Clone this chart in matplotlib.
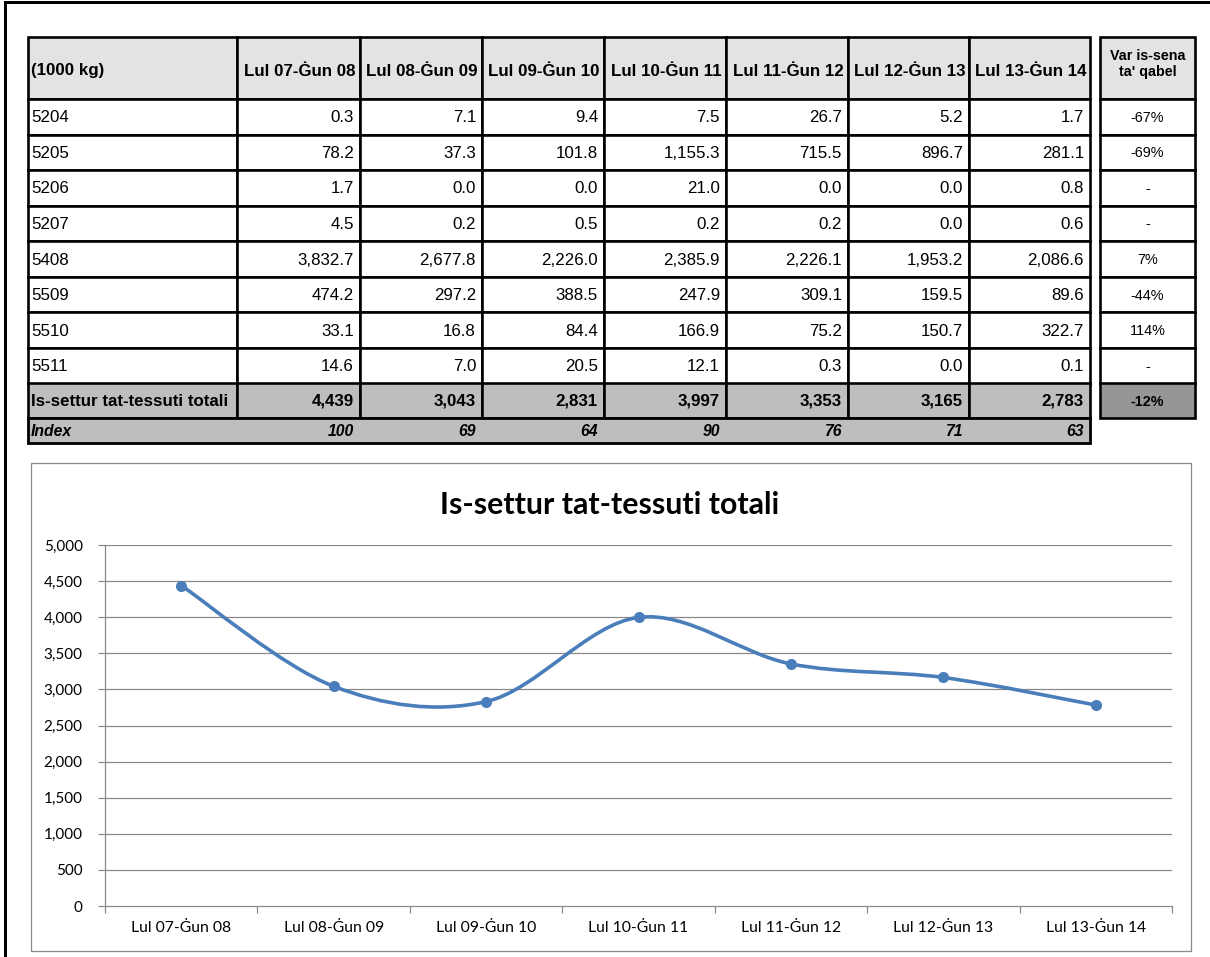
import matplotlib
matplotlib.use('Agg')
import matplotlib.pyplot as plt
from matplotlib.patches import Rectangle, PathPatch
from matplotlib.path import Path
from matplotlib.ticker import FuncFormatter, FixedLocator
import numpy as np

# ---------------- data ----------------
periods = ["Lul 07-Ġun 08", "Lul 08-Ġun 09", "Lul 09-Ġun 10", "Lul 10-Ġun 11",
           "Lul 11-Ġun 12", "Lul 12-Ġun 13", "Lul 13-Ġun 14"]
row_labels = ["5204", "5205", "5206", "5207", "5408", "5509", "5510", "5511"]
v5204 = [0.3, 7.1, 9.4, 7.5, 26.7, 5.2, 1.7]
v5205 = [78.2, 37.3, 101.8, 1155.3, 715.5, 896.7, 281.1]
v5206 = [1.7, 0.0, 0.0, 21.0, 0.0, 0.0, 0.8]
v5207 = [4.5, 0.2, 0.5, 0.2, 0.2, 0.0, 0.6]
v5408 = [3832.7, 2677.8, 2226.0, 2385.9, 2226.1, 1953.2, 2086.6]
v5509 = [474.2, 297.2, 388.5, 247.9, 309.1, 159.5, 89.6]
v5510 = [33.1, 16.8, 84.4, 166.9, 75.2, 150.7, 322.7]
v5511 = [14.6, 7.0, 20.5, 12.1, 0.3, 0.0, 0.1]
row_values = [v5204, v5205, v5206, v5207, v5408, v5509, v5510, v5511]
totals = [4439, 3043, 2831, 3997, 3353, 3165, 2783]
index_vals = [100, 69, 64, 90, 76, 71, 63]
var_labels = ["-67%", "-69%", "-", "-", "7%", "-44%", "114%", "-"]
var_total = "-12%"
unit_label = "(1000 kg)"
total_label = "Is-settur tat-tessuti totali"
index_label = "Index"
var_header = "Var is-sena\nta' qabel"
chart_title = "Is-settur tat-tessuti totali"
y_ticks = [0, 500, 1000, 1500, 2000, 2500, 3000, 3500, 4000, 4500, 5000]

# ---------------- figure ----------------
W, H = 1210, 957
fig = plt.figure(figsize=(W / 100, H / 100), dpi=100)
fig.patch.set_facecolor('white')

ov = fig.add_axes([0, 0, 1, 1])
ov.set_xlim(0, W)
ov.set_ylim(H, 0)
ov.axis('off')

PX = 0.72  # points per pixel
TF = 'Liberation Sans'
FS = 12.2     # main table font size
FS_IDX = 11.3
FS_VAR = 10.4

# outer frame (left and top only visible)
ov.plot([5, 5], [2, H], color='black', lw=3 * PX, solid_capstyle='projecting')
ov.plot([5, W], [2, 2], color='black', lw=3 * PX, solid_capstyle='projecting')

# table geometry (pixels)
col_x = [28, 237, 360, 482, 604, 726, 848, 969, 1090]
hdr_top, hdr_bot = 37, 99
row_h = (348 - 99) / 7.0
row_tops = [hdr_bot + i * row_h for i in range(8)]
tot_top, tot_bot = 383, 418
idx_top, idx_bot = 418, 443
var_x0, var_x1 = 1100, 1195

hdr_col = '#E3E3E3'
tot_col = '#BEBEBE'
var_tot_col = '#969696'


def cell(x0, y0, x1, y1, fc='white', lw=2.6):
    ov.add_patch(Rectangle((x0, y0), x1 - x0, y1 - y0, facecolor=fc,
                           edgecolor='black', lw=lw * PX, zorder=2))


# header
for i in range(8):
    cell(col_x[i], hdr_top, col_x[i + 1], hdr_bot, hdr_col)
ov.text(col_x[0] + 3, (hdr_top + hdr_bot) / 2 + 3, unit_label, fontfamily=TF,
        fontsize=FS, fontweight='bold', va='center', ha='left', zorder=3)
for j, p in enumerate(periods):
    ov.text((col_x[j + 1] + col_x[j + 2]) / 2 + 1, (hdr_top + hdr_bot) / 2 + 3, p,
            fontfamily=TF, fontsize=FS, fontweight='bold', va='center',
            ha='center', zorder=3)

# data rows
for r, (lab, vals) in enumerate(zip(row_labels, row_values)):
    y0 = row_tops[r]
    y1 = y0 + row_h
    yc = (y0 + y1) / 2 + 1
    for i in range(8):
        cell(col_x[i], y0, col_x[i + 1], y1)
    ov.text(col_x[0] + 3, yc, lab, fontfamily=TF, fontsize=FS,
            va='center', ha='left', zorder=3)
    for j, v in enumerate(vals):
        ov.text(col_x[j + 2] - 6, yc, f"{v:,.1f}", fontfamily=TF, fontsize=FS,
                va='center', ha='right', zorder=3)

# total row
for i in range(8):
    cell(col_x[i], tot_top, col_x[i + 1], tot_bot, tot_col)
yc = (tot_top + tot_bot) / 2 + 1
ov.text(col_x[0] + 3, yc, total_label, fontfamily=TF, fontsize=FS,
        fontweight='bold', va='center', ha='left', zorder=3)
for j, v in enumerate(totals):
    ov.text(col_x[j + 2] - 6, yc, f"{v:,.0f}", fontfamily=TF, fontsize=FS,
            fontweight='bold', va='center', ha='right', zorder=3)

# index row
ov.add_patch(Rectangle((col_x[0], idx_top), col_x[-1] - col_x[0], idx_bot - idx_top,
                       facecolor=tot_col, edgecolor='black', lw=2.8 * PX, zorder=2))
yc = (idx_top + idx_bot) / 2 + 1
ov.text(col_x[0] + 3, yc, index_label, fontfamily=TF, fontsize=FS_IDX,
        fontweight='bold', fontstyle='italic', va='center', ha='left', zorder=3)
for j, v in enumerate(index_vals):
    ov.text(col_x[j + 2] - 6, yc, f"{v:d}", fontfamily=TF, fontsize=FS_IDX,
            fontweight='bold', fontstyle='italic', va='center', ha='right', zorder=3)

# variation column
cell(var_x0, hdr_top, var_x1, hdr_bot, hdr_col)
ov.text((var_x0 + var_x1) / 2, (hdr_top + hdr_bot) / 2 - 4, var_header,
        fontfamily=TF, fontsize=10.3, fontweight='bold', va='center',
        ha='center', linespacing=1.2, zorder=3)
for r, lab in enumerate(var_labels):
    y0 = row_tops[r]
    y1 = y0 + row_h
    cell(var_x0, y0, var_x1, y1)
    ov.text((var_x0 + var_x1) / 2, (y0 + y1) / 2 + 1, lab, fontfamily=TF,
            fontsize=FS_VAR, va='center', ha='center', zorder=3)
cell(var_x0, tot_top, var_x1, tot_bot, var_tot_col)
ov.text((var_x0 + var_x1) / 2, (tot_top + tot_bot) / 2 + 1, var_total,
        fontfamily=TF, fontsize=FS_VAR, fontweight='bold', va='center',
        ha='center', zorder=3)

# chart box
ov.add_patch(Rectangle((31, 463), 1191 - 31, 951 - 463, facecolor='white',
                       edgecolor='#8C8C8C', lw=1.3 * PX, zorder=1))
ov.text(610, 505, chart_title, fontfamily='Lato', fontsize=21.8,
        fontweight='bold', ha='center', va='center', zorder=3)

# ---------------- line chart ----------------
CF = 'Lato'
px_left, px_right, px_top, px_bot = 105, 1172, 545, 906
ax = fig.add_axes([px_left / W, (H - px_bot) / H, (px_right - px_left) / W,
                   (px_bot - px_top) / H])
ax.set_facecolor('none')
n = len(periods)
ax.set_xlim(-0.5, n - 0.5)
ax.set_ylim(0, 5000)

grid_col = '#878787'
for t in y_ticks[1:]:
    ax.axhline(t, color=grid_col, lw=1.2 * PX, zorder=1)

for s in ['top', 'right']:
    ax.spines[s].set_visible(False)
ax.spines['left'].set_color(grid_col)
ax.spines['bottom'].set_color(grid_col)
ax.spines['left'].set_linewidth(1.2 * PX)
ax.spines['bottom'].set_linewidth(1.2 * PX)

ax.yaxis.set_major_locator(FixedLocator(y_ticks))
ax.yaxis.set_major_formatter(FuncFormatter(lambda v, p: f"{v:,.0f}"))
ax.tick_params(axis='y', direction='out', length=5, width=1.2 * PX,
               color=grid_col, labelsize=11, pad=11)
for lbl in ax.get_yticklabels():
    lbl.set_fontfamily(CF)

xs = np.arange(n)
ax.set_xticks(np.arange(-0.5, n, 1.0))
ax.set_xticklabels([])
ax.set_xticks(xs, minor=True)
ax.set_xticklabels(periods, minor=True, fontfamily=CF, fontsize=11.3)
ax.tick_params(axis='x', which='major', direction='out', length=5,
               width=1.2 * PX, color=grid_col)
ax.tick_params(axis='x', which='minor', length=0, pad=11)

# smoothed line (Catmull-Rom style Bezier through data points)
ys = np.array(totals, dtype=float)
verts = [(xs[0], ys[0])]
codes = [Path.MOVETO]
for i in range(n - 1):
    p0 = np.array([xs[max(i - 1, 0)], ys[max(i - 1, 0)]])
    p1 = np.array([xs[i], ys[i]])
    p2 = np.array([xs[i + 1], ys[i + 1]])
    p3 = np.array([xs[min(i + 2, n - 1)], ys[min(i + 2, n - 1)]])
    c1 = p1 + (p2 - p0) / 6.0
    c2 = p2 - (p3 - p1) / 6.0
    verts += [tuple(c1), tuple(c2), tuple(p2)]
    codes += [Path.CURVE4] * 3
line_col = '#4A7EBB'
ax.add_patch(PathPatch(Path(verts, codes), facecolor='none', edgecolor=line_col,
                       lw=2.6, capstyle='round', joinstyle='round', zorder=3))
ax.plot(xs, ys, 'o', color=line_col, markersize=7, zorder=4)

fig.savefig('out.png', dpi=100, facecolor='white')
